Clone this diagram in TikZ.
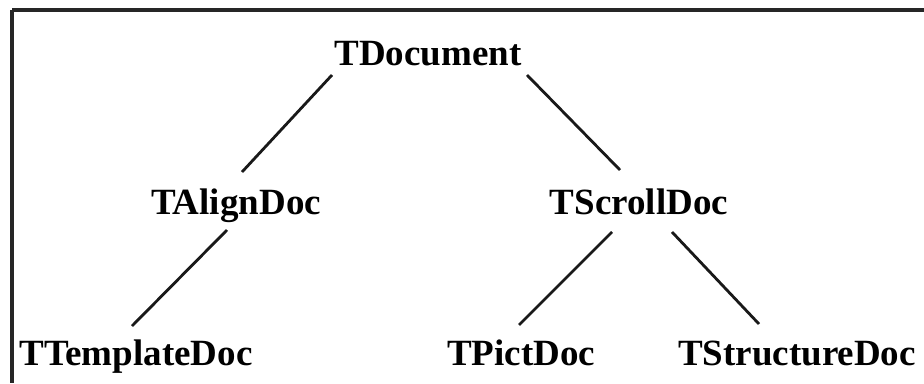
\documentclass[tikz,border=0pt]{standalone}
\usepackage{fontspec}
\setmainfont{Liberation Serif}
\usetikzlibrary{calc}
\begin{document}
\begin{tikzpicture}[x=1pt,y=-1pt,
  cls/.style={inner sep=0pt,anchor=base,font=\bfseries\fontsize{37}{44}\selectfont},
  edge/.style={line width=2.8pt,black!90},
  frame/.style={line width=3.2pt,black!85}]
\useasboundingbox (0,0) rectangle (924,383);
\draw[frame] (12,10) -- (924,10);
\draw[frame] (12,10) -- (12,383);
\node[cls] (doc) at (428,65) {TDocument};
\node[cls] (align) at (236,214) {TAlignDoc};
\node[cls] (scroll) at (639,214) {TScrollDoc};
\node[cls] (tmpl) at (136,365) {TTemplateDoc};
\node[cls] (pict) at (521,365) {TPictDoc};
\node[cls] (struct) at (797,365) {TStructureDoc};
\draw[edge] ($(doc.base)+(-96,10)$) -- ($(align.base)+(6,-42)$);
\draw[edge] ($(doc.base)+(99,10)$) -- ($(scroll.base)+(-19,-44)$);
\draw[edge] ($(align.base)+(-9,16)$) -- ($(tmpl.base)+(-4,-39)$);
\draw[edge] ($(scroll.base)+(-27,18)$) -- ($(pict.base)+(-2,-40)$);
\draw[edge] ($(scroll.base)+(33,18)$) -- ($(struct.base)+(-38,-41)$);
\end{tikzpicture}
\end{document}
